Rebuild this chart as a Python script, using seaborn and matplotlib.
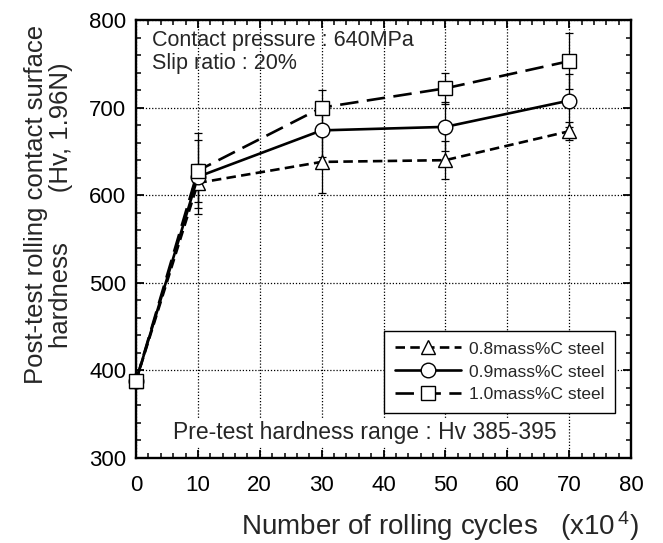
import numpy as np
import pandas as pd
import matplotlib
matplotlib.use("Agg")
import matplotlib.pyplot as plt
from matplotlib.lines import Line2D
from matplotlib.ticker import MultipleLocator
import seaborn as sns

# ---- data ----
cycles = [0, 10, 30, 50, 70]
series_names = ["0.8mass%C steel", "0.9mass%C steel", "1.0mass%C steel"]
hv_08 = [388, 614, 638, 640, 673]
hv_09 = [388, 621, 674, 678, 708]
hv_10 = [388, 628, 700, 722, 753]
err_08 = [0, 22, 36, 22, 10]
err_09 = [0, 42, 30, 28, 30]
err_10 = [0, 43, 20, 18, 32]
x_ticks = [0, 10, 20, 30, 40, 50, 60, 70, 80]
y_ticks = [300, 400, 500, 600, 700, 800]

sns.set_theme(style="ticks")
plt.rcParams['font.family'] = ['Liberation Sans', 'DejaVu Sans']
plt.rcParams['mathtext.fontset'] = 'custom'
plt.rcParams['mathtext.rm'] = 'Liberation Sans'
plt.rcParams['mathtext.default'] = 'rm'

df = pd.DataFrame({
    "cycles": cycles * 3,
    "hv": hv_08 + hv_09 + hv_10,
    "steel": [series_names[0]] * 5 + [series_names[1]] * 5 + [series_names[2]] * 5,
})

markers = {series_names[0]: "^", series_names[1]: "o", series_names[2]: "s"}
dashes = {series_names[0]: (3.6, 2.0), series_names[1]: "", series_names[2]: (7.0, 3.2)}
palette = {n: "black" for n in series_names}
LW = 1.9

fig = plt.figure(figsize=(6.63, 5.43), dpi=100)
ax = fig.add_axes([136 / 663, 1 - 458 / 543, 495 / 663, 438 / 543])

# error bars
for vals, errs in [(hv_08, err_08), (hv_09, err_09), (hv_10, err_10)]:
    ax.errorbar(cycles, vals, yerr=errs, fmt="none", ecolor="black",
                elinewidth=0.9, capsize=3, capthick=0.9, zorder=2)

sns.lineplot(data=df, x="cycles", y="hv", hue="steel", style="steel",
             markers=markers, dashes=dashes, palette=palette, ax=ax,
             linewidth=LW, markersize=10.5, markerfacecolor="white",
             markeredgecolor="black", markeredgewidth=1.0,
             legend=False, zorder=3, clip_on=False)

ax.set_xlim(0, 80)
ax.set_ylim(300, 800)
ax.set_xticks(x_ticks)
ax.set_yticks(y_ticks)
ax.xaxis.set_minor_locator(MultipleLocator(2))
ax.yaxis.set_minor_locator(MultipleLocator(20))
ax.tick_params(which="both", direction="in", top=True, right=True, colors="black")
ax.tick_params(which="major", length=6, width=1.3, labelsize=16)
ax.tick_params(which="minor", length=3.5, width=1.1)
ax.tick_params(axis="x", which="major", pad=12)
ax.tick_params(axis="y", which="major", pad=7)
for s in ax.spines.values():
    s.set_linewidth(1.7)
    s.set_color("black")

ax.grid(True, which="major", linestyle=(0, (1, 1.5)), color="black", linewidth=0.9)
ax.set_axisbelow(True)

ax.set_xlabel("Number of rolling cycles   (x10$^{\\,4}$)", fontsize=20)
ax.xaxis.set_label_coords(0.614, -0.117)
ax.set_ylabel("Post-test rolling contact surface\nhardness       (Hv, 1.96N)",
              fontsize=18.5, linespacing=1.05)
ax.yaxis.set_label_coords(-0.128, 0.578)

ax.text(0.032, 0.977, "Contact pressure : 640MPa\nSlip ratio : 20%",
        transform=ax.transAxes, ha="left", va="top", fontsize=15.5,
        linespacing=1.1, zorder=5)
ax.text(0.075, 0.0434, "Pre-test hardness range : Hv 385-395",
        transform=ax.transAxes, ha="left", va="baseline", fontsize=16.5,
        zorder=5, bbox=dict(facecolor="white", edgecolor="none", pad=1.5))

handles = []
for n in series_names:
    h = Line2D([0], [0], color="black", linewidth=LW, marker=markers[n],
               markersize=10.5, markerfacecolor="white", markeredgecolor="black",
               markeredgewidth=1.0)
    if dashes[n]:
        h.set_dashes(dashes[n])
    else:
        h.set_linestyle("-")
    handles.append(h)
leg = ax.legend(handles, series_names, loc="lower right",
                bbox_to_anchor=(0.968, 0.103), fontsize=12.5, frameon=True,
                fancybox=False, edgecolor="black", framealpha=1,
                handlelength=3.8, handletextpad=0.5, borderpad=0.6,
                labelspacing=0.45, borderaxespad=0)
leg.get_frame().set_linewidth(1.0)
leg.set_zorder(6)

fig.savefig("out.png", dpi=100, facecolor="white")
